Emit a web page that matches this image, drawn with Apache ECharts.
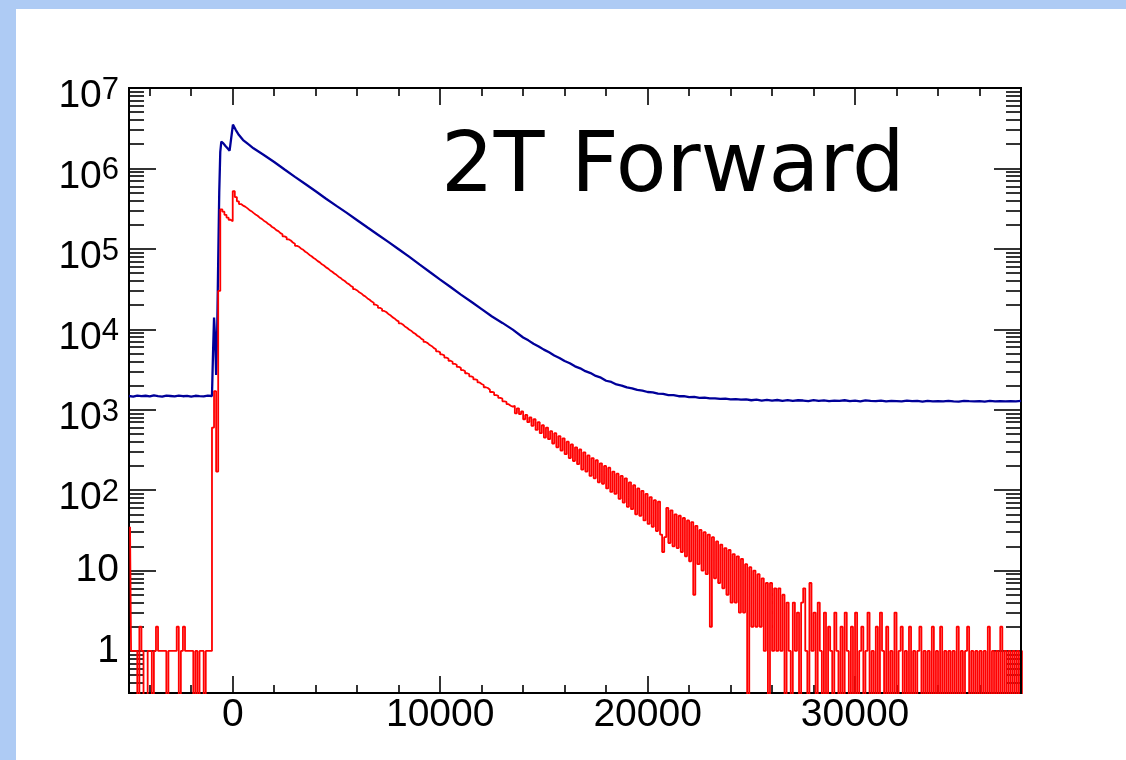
<!DOCTYPE html>
<html>
<head>
<meta charset="utf-8">
<script src="https://cdn.jsdelivr.net/npm/echarts@6/dist/echarts.min.js"></script>
<style>
body { margin: 0; }
#frame { position: absolute; left: 0; top: 0; width: 1126px; height: 760px; background: #aecbf4; overflow: hidden; }
#paper { position: absolute; left: 16px; top: 9px; right: 0; bottom: 0; background: #fff; }
#chart { position: absolute; left: 0; top: 0; width: 1126px; height: 760px; }
</style>
</head>
<body>
<div id="frame"><div id="paper"></div><div id="chart"></div></div>
<script>
// histogram binning of the red curve
var binStart = -5000;
var binWidth = 100;

// red: counts per bin, 430 bins from -5000 to 38000
var redCounts = [
    35,1,1,1,0,2,1,0,0,1,
    1,0,1,2,1,1,1,1,0,1,
    1,1,1,2,0,1,2,1,1,1,
    1,0,1,0,1,1,0,1,1,1,
    600,1700,170,30000,310000,290000,265000,245000,230000,220000,
    520000,440000,390000,360000,345000,335000,321000,305000,294000,280000,
    268000,258000,244000,236000,224000,216000,205000,198000,187000,181000,
    171000,166000,157000,152000,143000,139000,131000,127000,120000,116000,
    109000,106000,100500,97200,92000,88600,84000,81000,76900,74100,
    70300,67900,64200,62100,58800,56800,53900,51900,49300,47500,
    45100,43500,41200,39800,37700,36400,34500,33400,31500,30400,
    28800,27900,26400,25500,24200,23300,22100,21400,20200,19600,
    18500,17900,16900,16400,15500,14950,14150,13650,12900,12550,
    11850,11450,10850,10450,9940,9600,9080,8790,8310,8040,
    7600,7360,6950,6730,6360,6160,5820,5640,5320,5160,
    4860,4730,4440,4330,4060,3950,3720,3620,3400,3310,
    3110,3030,2840,2780,2600,2530,2380,2330,2180,2090,
    2030,1900,1860,1770,1660,1640,1520,1490,1400,1370,
    1270,1250,1170,1120,1090,1120,900,1040,880,950,
    760,860,700,800,630,760,560,700,510,640,
    450,600,430,540,380,510,340,470,310,440,
    280,400,250,370,230,340,210,320,180,295,
    170,270,150,250,140,235,125,215,120,200,
    105,190,95,170,90,160,78,150,70,140,
    62,125,58,115,50,105,48,98,42,90,
    38,82,35,75,31,72,28,17,26,60,
    22,56,20,50,19,48,17,45,15,42,
    13,40,5,36,12,32,10,30,9,28,
    2,26,8,23,7,21,6,19,5,18,
    4,16,4,15,3,14,3,12,0,11,
    2,10,2,9,2,8,1,7,0,7,
    1,6,1,6,1,5,0,4,1,0,
    4,1,3,0,4,6,1,0,7,1,
    3,0,4,1,0,3,0,2,1,0,
    3,1,0,2,0,3,1,0,2,0,
    3,0,1,2,0,1,3,0,1,0,
    2,0,3,1,0,2,0,1,0,3,
    0,1,2,0,1,0,2,0,1,0,
    1,2,0,1,0,1,0,2,0,1,
    0,2,0,1,0,1,0,1,0,2,
    0,1,0,1,2,0,1,0,1,0,
    1,0,1,0,2,0,1,0,1,0,
    2,0,1,0,1,0,1,0,1,0,
    0,1,0,1,1,0,1,0,0,0,
    1,0,1,0,1
];

// blue: [x, count]
var bluePoints = [
    [-5000,1480],[-4800,1455],[-4600,1500],[-4400,1470],[-4200,1490],[-4000,1460],[-3800,1510],
    [-3600,1475],[-3400,1450],[-3200,1495],[-3000,1480],[-2800,1465],[-2600,1500],[-2400,1470],
    [-2200,1485],[-2000,1455],[-1800,1490],[-1600,1475],[-1400,1465],[-1200,1495],[-1000,1480],
    [-950,5000],[-900,14000],[-850,8000],[-800,2700],[-750,9000],[-700,70000],[-650,500000],
    [-600,1600000],[-550,2150000],[-450,2050000],[-350,1900000],[-250,1780000],[-150,1660000],
    [-100,1600000],[10,3500000],[150,3000000],[300,2600000],[500,2250000],[750,2000000],
    [1000,1780000],[1500,1470000],[2000,1200000],[2500,970000],[3000,785000],[3500,640000],
    [4000,520000],[4500,420000],[5000,342000],[5500,280000],[6000,227000],[6500,184000],
    [7000,150000],[7500,122000],[8000,99000],[8500,80000],[9000,64000],[9500,51500],
    [10000,41500],[10500,33500],[11000,27000],[11500,22000],[12000,17800],[12500,14400],
    [13000,12000],[13500,9900],
    [14000,7900],[14250,7280],[14500,6620],[14750,6120],[15000,5580],[15250,5170],[15500,4730],
    [15750,4400],[16000,4030],[16250,3780],[16500,3460],[16750,3270],[17000,3010],[17250,2850],
    [17500,2630],[17750,2500],[18000,2290],[18250,2210],[18500,2060],[18750,1995],[19000,1890],
    [19250,1845],[19500,1760],[19750,1730],[20000,1660],[20250,1640],[20500,1580],[20750,1570],
    [21000,1520],[21250,1515],[21500,1470],[21750,1475],[22000,1430],[22250,1440],[22500,1400],
    [22750,1410],[23000,1380],[23250,1385],[23500,1360],[23750,1370],[24000,1340],[24250,1355],
    [24500,1330],
    [24750,1345],[25000,1310],[25250,1330],[25500,1300],[25750,1325],[26000,1295],[26250,1320],
    [26500,1290],[26750,1315],[27000,1285],[27250,1310],[27500,1300],[27750,1280],[28000,1315],
    [28250,1290],[28500,1305],[28750,1275],[29000,1300],[29250,1285],[29500,1310],[29750,1280],
    [30000,1295],[30250,1270],[30500,1305],[30750,1285],[31000,1275],[31250,1300],[31500,1270],
    [31750,1290],[32000,1280],[32250,1265],[32500,1295],[32750,1275],[33000,1285],[33250,1260],
    [33500,1290],[33750,1270],[34000,1280],[34250,1265],[34500,1285],[34750,1270],[35000,1260],
    [35250,1290],[35500,1275],[35750,1265],[36000,1280],[36250,1260],[36500,1285],[36750,1270],
    [37000,1275],[37250,1265],[37500,1280],[37750,1270],[38000,1285]
];

var xMajor = [0, 10000, 20000, 30000];
var yDecades = [0, 1, 2, 3, 4, 5, 6, 7];
var minorMantissas = [2, 3, 4, 5, 6, 7, 8, 9];

var X_MIN = -5000, X_MAX = 38000;
var Y_MIN = Math.log10(0.3), Y_MAX = 7;
var FONT = "'Liberation Sans', Arial, Helvetica, sans-serif";

// empty bins sit far below the frame and get clipped, like log(0)
function toLog(v) { return v > 0 ? Math.log10(v) : -5; }

var redData = redCounts.map(function (c, i) {
    return [binStart + binWidth * (i + 0.5), toLog(c)];
});
var blueData = bluePoints.map(function (p) { return [p[0], toLog(p[1])]; });

var xMinor = [];
for (var x = -4000; x <= X_MAX; x += 2000) {
    if (x % 10000 !== 0) xMinor.push(x);
}
var yMinor = [];
for (var k = -1; k < 7; k++) {
    minorMantissas.forEach(function (m) {
        var v = Math.log10(m) + k;
        if (v > Y_MIN + 0.01 && v < Y_MAX) yMinor.push(v);
    });
}

function xAxis(pos, ticks, len, withLabels) {
    return {
        type: 'value', min: X_MIN, max: X_MAX, position: pos,
        axisLine: { show: true, onZero: false, lineStyle: { color: '#000', width: 2 } },
        axisTick: { show: true, inside: true, length: len, customValues: ticks, lineStyle: { color: '#000', width: 1.6 } },
        axisLabel: withLabels ? {
            customValues: ticks, margin: 3, color: '#000', fontSize: 39, fontFamily: FONT,
            formatter: function (v) { return String(v); }
        } : { show: false },
        splitLine: { show: false }
    };
}

function yAxis(pos, ticks, len, withLabels) {
    return {
        type: 'value', min: Y_MIN, max: Y_MAX, position: pos,
        axisLine: { show: true, onZero: false, lineStyle: { color: '#000', width: 2 } },
        axisTick: { show: true, inside: true, length: len, customValues: ticks, lineStyle: { color: '#000', width: 1.6 } },
        axisLabel: withLabels ? {
            customValues: ticks, margin: 10, color: '#000', fontSize: 39, fontFamily: FONT,
            formatter: function (v) {
                var p = Math.round(v);
                if (p === 0) return '1';
                if (p === 1) return '10';
                return '{b|10}{s|' + p + '}';
            },
            rich: {
                b: { fontSize: 39, lineHeight: 56, fontFamily: FONT, color: '#000', verticalAlign: 'bottom' },
                s: { fontSize: 31, lineHeight: 31, fontFamily: FONT, color: '#000', verticalAlign: 'bottom', padding: [0, 0, 10, 0] }
            }
        } : { show: false },
        splitLine: { show: false }
    };
}

var chart = echarts.init(document.getElementById('chart'));
chart.setOption({
    animation: false,
    backgroundColor: 'transparent',
    title: {
        text: '2T Forward', left: 441, top: 128, padding: 0,
        textStyle: { fontFamily: "'DejaVu Sans', sans-serif", fontSize: 83, fontWeight: 'normal', color: '#000' }
    },
    grid: { left: 129, right: 105, top: 88, bottom: 67, containLabel: false },
    xAxis: [
        xAxis('bottom', xMajor, 17, true),
        xAxis('bottom', xMinor, 8, false),
        xAxis('top', xMajor, 17, false),
        xAxis('top', xMinor, 8, false)
    ],
    yAxis: [
        yAxis('left', yDecades, 27, true),
        yAxis('left', yMinor, 15, false),
        yAxis('right', yDecades, 27, false),
        yAxis('right', yMinor, 15, false)
    ],
    series: [
        {
            name: 'all', type: 'line', data: blueData, showSymbol: false, clip: true,
            lineStyle: { color: '#000099', width: 2.3 }
        },
        {
            name: 'selected', type: 'line', data: redData, step: 'middle', showSymbol: false, clip: true,
            lineStyle: { color: '#ff0000', width: 1.8 }
        }
    ]
});
</script>
</body>
</html>
